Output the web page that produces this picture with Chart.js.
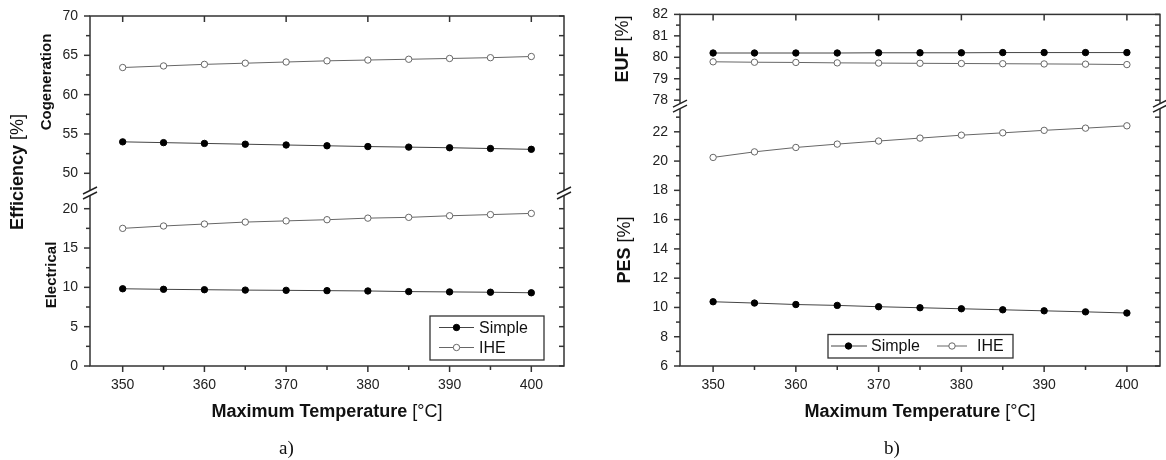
<!DOCTYPE html>
<html><head><meta charset="utf-8">
<script src="https://cdn.jsdelivr.net/npm/chart.js@4.4.0/dist/chart.umd.min.js"></script>
<style>
html,body{margin:0;padding:0;background:#fff;}
#wrap{position:relative;width:1166px;height:460px;overflow:hidden;background:#fff;}
.pane{position:absolute;top:0;width:583px;height:460px;}
#pa{left:0}
#pb{left:583px}
.lab{position:absolute;font-family:'Liberation Serif','Times New Roman',serif;font-size:19px;line-height:20px;color:#111;}
</style></head>
<body><div id="wrap">
<div class="pane" id="pa"><canvas id="ca" width="583" height="460"></canvas></div>
<div class="pane" id="pb"><canvas id="cb" width="583" height="460"></canvas></div>
<div class="lab" style="left:279px;top:438px">a)</div>
<div class="lab" style="left:884px;top:438px">b)</div>
</div>
<script>
// ---- data ----
const temps = [350,355,360,365,370,375,380,385,390,395,400];
const simpleCogen = [54.0,53.9,53.8,53.7,53.6,53.5,53.4,53.33,53.25,53.15,53.05];
const iheCogen    = [63.45,63.65,63.85,64.0,64.15,64.3,64.4,64.5,64.6,64.7,64.85];
const simpleElec  = [9.82,9.75,9.7,9.65,9.62,9.58,9.54,9.46,9.42,9.38,9.31];
const iheElec     = [17.5,17.8,18.05,18.3,18.45,18.6,18.8,18.9,19.1,19.25,19.4];
const simpleEUF   = [80.2,80.2,80.2,80.2,80.21,80.21,80.21,80.22,80.22,80.22,80.22];
const iheEUF      = [79.79,79.77,79.76,79.74,79.73,79.72,79.71,79.7,79.69,79.68,79.66];
const simplePES   = [10.39,10.3,10.2,10.14,10.05,9.98,9.91,9.84,9.77,9.7,9.62];
const ihePES      = [20.25,20.63,20.93,21.16,21.37,21.57,21.77,21.93,22.1,22.25,22.41];
// ---- tick labels ----
const xTickLabels = [350,360,370,380,390,400];
const effUpperLabels = [50,55,60,65,70];
const effLowerLabels = [0,5,10,15,20];
const eufLabels = [78,79,80,81,82];
const pesLabels = [6,8,10,12,14,16,18,20,22];

const FONT = "Arial, 'Liberation Sans', Helvetica, sans-serif";
const AX = '#333';

function tickList(a, b, step){ const r=[]; for(let v=a; v<=b+1e-9; v+=step) r.push(+v.toFixed(4)); return r; }
function pts(vals){ return temps.map((t,i)=>({x:t,y:vals[i]})); }

function simpleDs(label, vals, axis){
  return {label, data:pts(vals), yAxisID:axis, borderColor:'#444', borderWidth:1, pointRadius:3.2,
    pointBackgroundColor:'#000', pointBorderColor:'#000', pointBorderWidth:1, tension:0, fill:false};
}
function iheDs(label, vals, axis){
  return {label, data:pts(vals), yAxisID:axis, borderColor:'#666', borderWidth:1, pointRadius:3.2,
    pointBackgroundColor:'#fff', pointBorderColor:'#666', pointBorderWidth:1, tension:0, fill:false};
}

function yScale(min, max, first, last, step, majors, weight, width){
  return {
    type:'linear', position:'left', stack:'y', stackWeight:weight, min, max,
    afterBuildTicks: s => { s.ticks = tickList(first, last, step).map(v=>({value:v})); },
    afterFit: s => { s.width = width; },
    grid:{display:false, drawTicks:true, tickLength:6},
    border:{display:false},
    ticks:{padding:6, color:'#222', font:{family:FONT,size:14}, autoSkip:false, maxRotation:0,
      callback: v => majors.includes(+(+v).toFixed(4)) ? String(v) : ''}
  };
}
function xScale(){
  return {
    type:'linear', position:'bottom', min:346, max:404,
    afterBuildTicks: s => { s.ticks = tickList(350, 400, 5).map(v=>({value:v})); },
    afterFit: s => { s.height = 94; },
    grid:{display:false, drawTicks:true, tickLength:6},
    border:{display:false},
    ticks:{padding:5, color:'#222', font:{family:FONT,size:14}, autoSkip:false, maxRotation:0,
      callback: v => xTickLabels.includes(+v) ? String(v) : ''}
  };
}

function line(ctx,x1,y1,x2,y2){ ctx.beginPath(); ctx.moveTo(x1,y1); ctx.lineTo(x2,y2); ctx.stroke(); }

function drawTitle(ctx, parts, x, y, size, rot){
  ctx.save();
  ctx.translate(x,y);
  if(rot) ctx.rotate(-Math.PI/2);
  let total=0;
  const w = parts.map(p=>{ ctx.font=(p[1]?'bold ':'')+size+'px '+FONT; const m=ctx.measureText(p[0]).width; total+=m; return m; });
  let cx=-total/2;
  ctx.fillStyle='#111'; ctx.textBaseline='middle'; ctx.textAlign='left';
  parts.forEach((p,i)=>{ ctx.font=(p[1]?'bold ':'')+size+'px '+FONT; ctx.fillText(p[0],cx,0); cx+=w[i]; });
  ctx.restore();
}

function breakMark(ctx, x, y){
  ctx.save();
  ctx.fillStyle='#fff';
  ctx.beginPath();
  ctx.moveTo(x-7, y+6); ctx.lineTo(x+7, y-1); ctx.lineTo(x+7, y-6); ctx.lineTo(x-7, y+1); ctx.closePath();
  ctx.fill();
  ctx.strokeStyle='#222'; ctx.lineWidth=1.5;
  line(ctx, x-7, y+6, x+7, y-1);
  line(ctx, x-7, y+1, x+7, y-6);
  ctx.restore();
}

const framePlugin = {
  id:'frame',
  afterDraw(chart, args, o){
    const ctx = chart.ctx, a = chart.chartArea;
    const xs = chart.scales.x, yU = chart.scales.yU, yL = chart.scales.yL;
    ctx.save();
    ctx.strokeStyle = AX; ctx.lineWidth = 1.5;
    ctx.strokeRect(a.left, a.top, a.right-a.left, a.bottom-a.top);
    for(const t of xs.ticks){
      const px = xs.getPixelForValue(t.value);
      const maj = xTickLabels.includes(t.value);
      line(ctx, px, a.bottom, px, a.bottom + (maj?6:4));
      if(maj) line(ctx, px, a.top, px, a.top+6);
    }
    for(const [sc, majors] of [[yU,o.upperMajors],[yL,o.lowerMajors]]){
      for(const t of sc.ticks){
        const py = sc.getPixelForValue(t.value);
        const maj = majors.includes(t.value);
        line(ctx, a.left-(maj?6:4), py, a.left, py);
        line(ctx, a.right-5, py, a.right, py);
      }
    }
    ctx.restore();
    const yb = yU.bottom;
    breakMark(ctx, a.left, yb);
    breakMark(ctx, a.right, yb);
    // titles
    for(const t of o.titles) drawTitle(ctx, t.parts, t.x, t.y, t.size, t.rot);
    // legend
    const L = o.legend;
    ctx.save();
    ctx.strokeStyle='#333'; ctx.lineWidth=1.3;
    ctx.strokeRect(L.box[0], L.box[1], L.box[2]-L.box[0], L.box[3]-L.box[1]);
    for(const it of L.items){
      const ds = chart.data.datasets[it.ds];
      ctx.strokeStyle = ds.borderColor; ctx.lineWidth = 1;
      line(ctx, it.l0, it.y, it.l1, it.y);
      ctx.beginPath(); ctx.arc(it.m, it.y, 3.2, 0, Math.PI*2);
      ctx.fillStyle = ds.pointBackgroundColor; ctx.fill();
      ctx.strokeStyle = ds.pointBorderColor; ctx.stroke();
      ctx.fillStyle='#111'; ctx.font='16px '+FONT; ctx.textBaseline='middle'; ctx.textAlign='left';
      ctx.fillText(ds.label, it.t, it.y+1);
    }
    ctx.restore();
  }
};

// ---- chart a ----
new Chart(document.getElementById('ca'), {
  type:'line',
  data:{ datasets:[
    simpleDs('Simple', simpleElec, 'yL'),
    iheDs('IHE', iheElec, 'yL'),
    simpleDs('Simple', simpleCogen, 'yU'),
    iheDs('IHE', iheCogen, 'yU')
  ]},
  options:{
    responsive:false, animation:false,
    layout:{padding:{left:0, top:16, right:19, bottom:0}},
    scales:{
      x: xScale(),
      yL: yScale(0, 22, 0, 20, 2.5, effLowerLabels, 22, 90),
      yU: yScale(47.5, 70, 50, 70, 2.5, effUpperLabels, 22.5, 90)
    },
    plugins:{
      legend:{display:false}, tooltip:{enabled:false},
      frame:{
        upperMajors:effUpperLabels, lowerMajors:effLowerLabels,
        titles:[
          {parts:[['Efficiency ',true],['[%]',false]], x:18.5, y:172, size:18, rot:true},
          {parts:[['Cogeneration',true]], x:46.5, y:82, size:15, rot:true},
          {parts:[['Electrical',true]], x:51.5, y:275, size:15, rot:true},
          {parts:[['Maximum Temperature ',true],['[°C]',false]], x:327, y:412, size:18, rot:false}
        ],
        legend:{ box:[430,316,544,360], items:[
          {ds:0, l0:439, l1:474, m:456.5, t:479, y:327.5},
          {ds:1, l0:439, l1:474, m:456.5, t:479, y:347.5}
        ]}
      }
    }
  },
  plugins:[framePlugin]
});

// ---- chart b ----
new Chart(document.getElementById('cb'), {
  type:'line',
  data:{ datasets:[
    simpleDs('Simple', simplePES, 'yL'),
    iheDs('IHE', ihePES, 'yL'),
    simpleDs('Simple', simpleEUF, 'yU'),
    iheDs('IHE', iheEUF, 'yU')
  ]},
  options:{
    responsive:false, animation:false,
    layout:{padding:{left:0, top:11, right:6, bottom:0}},
    scales:{
      x: xScale(),
      yL: yScale(6, 23.75, 6, 23, 1, pesLabels, 260.4, 97),
      yU: yScale(77.72, 82, 78, 82, 0.5, eufLabels, 92.0, 97)
    },
    plugins:{
      legend:{display:false}, tooltip:{enabled:false},
      frame:{
        upperMajors:eufLabels, lowerMajors:pesLabels,
        titles:[
          {parts:[['EUF ',true],['[%]',false]], x:40.5, y:49, size:18, rot:true},
          {parts:[['PES ',true],['[%]',false]], x:42.5, y:250, size:18, rot:true},
          {parts:[['Maximum Temperature ',true],['[°C]',false]], x:337, y:412, size:18, rot:false}
        ],
        legend:{ box:[245,334.5,430,358], items:[
          {ds:0, l0:248, l1:284, m:265.5, t:288, y:346},
          {ds:1, l0:354, l1:384, m:369, t:394, y:346}
        ]}
      }
    }
  },
  plugins:[framePlugin]
});
</script>
</body></html>
